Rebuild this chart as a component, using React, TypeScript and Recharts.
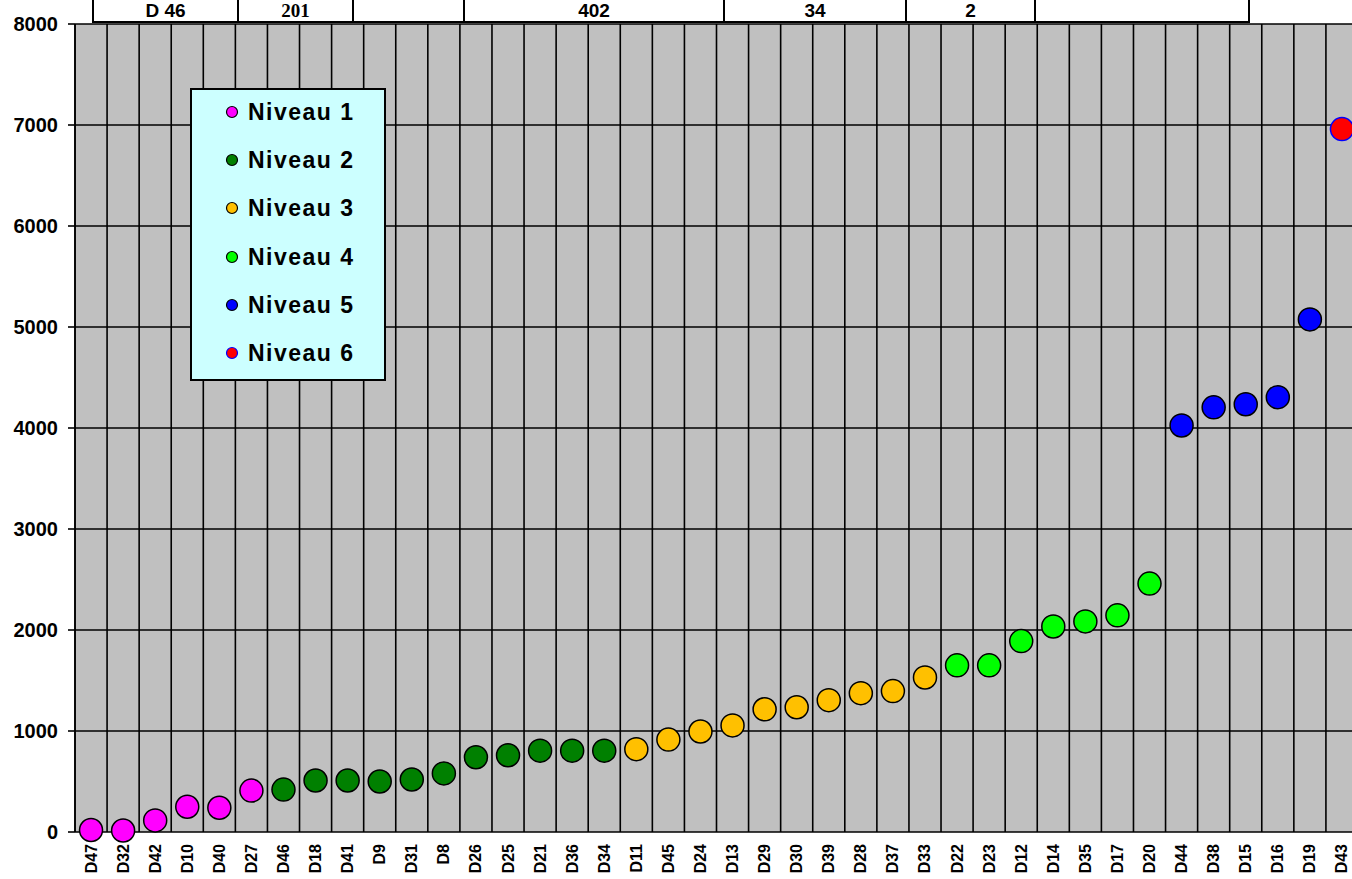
import { CartesianGrid, Legend, Scatter, ScatterChart, XAxis, YAxis } from 'recharts'

const categories = [
  'D47', 'D32', 'D42', 'D10', 'D40', 'D27', 'D46', 'D18', 'D41', 'D9',
  'D31', 'D8', 'D26', 'D25', 'D21', 'D36', 'D34', 'D11', 'D45', 'D24',
  'D13', 'D29', 'D30', 'D39', 'D28', 'D37', 'D33', 'D22', 'D23', 'D12',
  'D14', 'D35', 'D17', 'D20', 'D44', 'D38', 'D15', 'D16', 'D19', 'D43',
]
const values = [
  20, 15, 115, 250, 240, 410, 420, 510, 510, 500,
  520, 580, 740, 760, 805, 805, 805, 820, 915, 995,
  1055, 1215, 1235, 1305, 1375, 1395, 1530, 1650, 1650, 1890,
  2035, 2085, 2145, 2460, 4025, 4205, 4235, 4305, 5075, 6960,
]
const levels = [
  1, 1, 1, 1, 1, 1, 2, 2, 2, 2,
  2, 2, 2, 2, 2, 2, 2, 3, 3, 3,
  3, 3, 3, 3, 3, 3, 3, 4, 4, 4,
  4, 4, 4, 4, 5, 5, 5, 5, 5, 6,
]
const levelNames = ['Niveau 1', 'Niveau 2', 'Niveau 3', 'Niveau 4', 'Niveau 5', 'Niveau 6']
const yTicks = [0, 1000, 2000, 3000, 4000, 5000, 6000, 7000, 8000]
const headerLabels = ['D 46', '201', '', '402', '34', '2', '']

// look
const font = 'Arial, "Liberation Sans", sans-serif'
const levelStyle = [
  { fill: '#ff00ff', stroke: '#000' },
  { fill: '#008000', stroke: '#000' },
  { fill: '#ffc000', stroke: '#000' },
  { fill: '#00ff00', stroke: '#000' },
  { fill: '#0000ff', stroke: '#000' },
  { fill: '#ff0000', stroke: '#0000ff' },
]
const headerEdges = [92, 237, 352, 463, 723, 905, 1034, 1250]
const headerSerif = [false, true, false, false, false, false, false]

const points = categories.map((name, i) => ({ idx: i, name, value: values[i], level: levels[i] }))
const series = levelNames.map((name, k) => ({ name, data: points.filter((p) => p.level === k + 1) }))
const labelTicks = categories.map((_, i) => i)
const edgeTicks = [...categories.map((_, i) => i - 0.5), categories.length - 0.5]
const xDomain: [number, number] = [-0.5, categories.length - 0.5]

// vertical grid lines sit on category boundaries, not on the label ticks
function edgeLines({ xAxis, offset }: any) {
  const toX = (t: number) => {
    if (xAxis && typeof xAxis.scale === 'function') return xAxis.scale(t)
    return offset.left + ((t - xDomain[0]) / (xDomain[1] - xDomain[0])) * offset.width
  }
  return edgeTicks.map(toX)
}

function CategoryTick({ x, y, payload }: any) {
  const ty = y + 12
  return (
    <text
      x={x}
      y={ty}
      transform={`rotate(-90, ${x}, ${ty})`}
      textAnchor="end"
      dominantBaseline="central"
      fontSize={16}
      fontWeight="bold"
      fontFamily={font}
      fill="#000"
    >
      {categories[payload.value]}
    </text>
  )
}

function LevelLegend() {
  return (
    <div
      style={{
        boxSizing: 'border-box',
        width: 196,
        height: 293,
        background: '#ccffff',
        border: '2px solid #000',
        fontFamily: font,
      }}
    >
      <div style={{ marginTop: -2 }}>
        {levelNames.map((name, k) => (
          <div key={name} style={{ position: 'relative', height: 48.2 }}>
            <svg width={14} height={14} style={{ position: 'absolute', left: 33, top: 17 }}>
              <circle cx={7} cy={7} r={5.5} fill={levelStyle[k].fill} stroke={levelStyle[k].stroke} strokeWidth={1.2} />
            </svg>
            <span
              style={{
                position: 'absolute',
                left: 56,
                top: 10,
                fontSize: 23,
                lineHeight: '28px',
                fontWeight: 'bold',
                letterSpacing: 1.5,
                color: '#000',
              }}
            >
              {name}
            </span>
          </div>
        ))}
      </div>
    </div>
  )
}

export default function App() {
  return (
    <div style={{ position: 'fixed', left: 0, top: 0, width: 1352, height: 879, overflow: 'hidden', background: '#fff' }}>
      <ScatterChart width={1368} height={900} margin={{ top: 24, right: 10, left: 0, bottom: 0 }}>
        <CartesianGrid
          stroke="#000"
          strokeWidth={1.6}
          fill="#c0c0c0"
          fillOpacity={1}
          verticalCoordinatesGenerator={edgeLines}
        />
        <XAxis
          xAxisId="edges"
          type="number"
          dataKey="idx"
          domain={xDomain}
          ticks={edgeTicks}
          interval={0}
          height={1}
          tick={() => <g />}
          axisLine={false}
          tickLine={{ stroke: '#000', strokeWidth: 1.6 }}
          tickSize={7}
        />
        <XAxis
          type="number"
          dataKey="idx"
          domain={xDomain}
          ticks={labelTicks}
          interval={0}
          height={67}
          tick={<CategoryTick />}
          axisLine={false}
          tickLine={false}
          tickSize={0}
          tickMargin={0}
        />
        <YAxis
          type="number"
          dataKey="value"
          domain={[0, 8000]}
          ticks={yTicks}
          interval={0}
          width={75}
          tick={{ fontSize: 20, fontWeight: 'bold', fill: '#000', fontFamily: font }}
          tickLine={{ stroke: '#000', strokeWidth: 1.6 }}
          tickSize={7}
          tickMargin={10}
          axisLine={{ stroke: '#000', strokeWidth: 1.6 }}
        />
        <Legend
          layout="vertical"
          align="center"
          verticalAlign="middle"
          wrapperStyle={{ left: 190, top: 88, width: 196 }}
          content={() => <LevelLegend />}
        />
        {series.map((s, k) => (
          <Scatter
            key={s.name}
            name={s.name}
            data={s.data}
            fill={levelStyle[k].fill}
            isAnimationActive={false}
            shape={(p: any) => (
              <circle
                cx={p.cx}
                cy={p.cy}
                r={11.5}
                fill={levelStyle[k].fill}
                stroke={levelStyle[k].stroke}
                strokeWidth={1.5}
              />
            )}
          />
        ))}
      </ScatterChart>
      {headerLabels.map((label, i) => (
        <div
          key={i}
          style={{
            position: 'absolute',
            left: headerEdges[i],
            top: -20,
            width: headerEdges[i + 1] - headerEdges[i],
            height: 43,
            boxSizing: 'border-box',
            border: '2px solid #000',
            borderRight: i === headerLabels.length - 1 ? '2px solid #000' : 'none',
            background: '#fff',
          }}
        >
          <span
            style={{
              position: 'absolute',
              left: 0,
              right: 0,
              top: 18,
              textAlign: 'center',
              fontSize: 19,
              fontWeight: 'bold',
              fontFamily: headerSerif[i] ? '"Liberation Serif", "Times New Roman", serif' : font,
              color: '#000',
              lineHeight: 'normal',
            }}
          >
            {label}
          </span>
        </div>
      ))}
    </div>
  )
}
